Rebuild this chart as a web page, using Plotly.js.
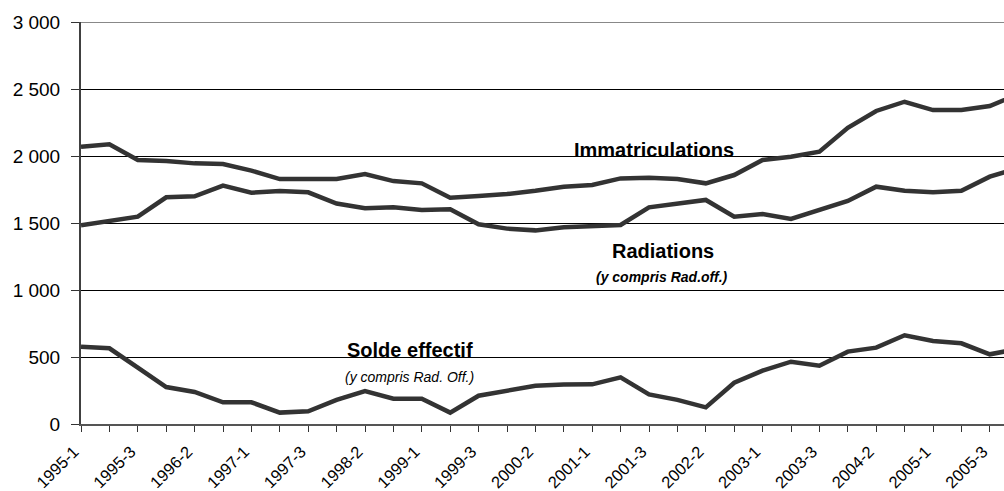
<!DOCTYPE html>
<html>
<head>
<meta charset="utf-8">
<script src="https://cdn.plot.ly/plotly-3.0.1.min.js"></script>
<style>html,body{margin:0;padding:0;background:#fff;}#chart{width:1004px;height:491px;}</style>
</head>
<body>
<div id="chart"></div>
<script>
// Categories (trimesters)
const periods = [
  "1995-1","1995-2","1995-3","1996-1","1996-2","1996-3","1997-1","1997-2","1997-3",
  "1998-1","1998-2","1998-3","1999-1","1999-2","1999-3","2000-1","2000-2","2000-3",
  "2001-1","2001-2","2001-3","2002-1","2002-2","2002-3","2003-1","2003-2","2003-3",
  "2004-1","2004-2","2004-3","2005-1","2005-2","2005-3","2006-1"
];
const immatriculations = [2069,2087,1970,1963,1945,1940,1891,1828,1828,1828,1866,1813,1796,1689,1701,1716,1741,1771,1784,1833,1838,1828,1796,1858,1970,1995,2032,2211,2336,2405,2343,2343,2373,2460];
const radiations = [1483,1517,1547,1692,1699,1779,1726,1739,1729,1645,1610,1617,1597,1602,1490,1458,1445,1468,1480,1485,1617,1642,1672,1547,1567,1530,1597,1664,1771,1741,1729,1741,1846,1910];
const soldeEffectif = [577,565,420,276,239,162,162,85,95,180,246,189,189,85,211,249,286,294,296,348,221,180,124,308,398,465,435,540,570,662,619,602,520,560];
const yTickVals = [0,500,1000,1500,2000,2500,3000];
const yTickLabels = ["0","500","1 000","1 500","2 000","2 500","3 000"];
const xTickLabels = periods.map((p, i) => (i % 2 === 0 ? p : ""));

const FONT = "Liberation Sans, Arial, sans-serif";
const lineStyle = {color: "#333333", width: 4.5};

const traces = [
  {x: periods, y: immatriculations, type: "scatter", mode: "lines", line: lineStyle, name: "Immatriculations"},
  {x: periods, y: radiations, type: "scatter", mode: "lines", line: lineStyle, name: "Radiations"},
  {x: periods, y: soldeEffectif, type: "scatter", mode: "lines", line: lineStyle, name: "Solde effectif"}
];

const layout = {
  width: 1004, height: 491,
  margin: {l: 81, r: 0, t: 22, b: 67, pad: 0},
  paper_bgcolor: "#ffffff", plot_bgcolor: "#ffffff",
  showlegend: false,
  font: {family: FONT, color: "#000"},
  xaxis: {
    type: "category",
    range: [0, 32.5],
    tickmode: "array",
    tickvals: periods,
    ticktext: xTickLabels,
    tickangle: -45,
    ticks: "outside", ticklen: 6, tickwidth: 1, tickcolor: "#333",
    ticklabelstandoff: 4,
    ticklabelshift: -7,
    tickfont: {family: FONT, size: 16.5, color: "#000"},
    showgrid: false, zeroline: false,
    showline: true, linecolor: "#555", linewidth: 1.5
  },
  yaxis: {
    range: [0, 3000],
    tickmode: "array",
    tickvals: yTickVals,
    ticktext: yTickLabels,
    ticks: "outside", ticklen: 8, tickwidth: 1, tickcolor: "#333",
    ticklabelstandoff: 7,
    tickfont: {family: FONT, size: 19, color: "#000"},
    showgrid: true, gridcolor: "#000", gridwidth: 1,
    zeroline: false,
    showline: true, linecolor: "#404040", linewidth: 2
  },
  shapes: [
    {type: "line", xref: "paper", yref: "y", x0: 0, x1: 1, y0: 3000, y1: 3000, line: {color: "#888888", width: 2}, layer: "above"}
  ],
  annotations: [
    {xref: "x", yref: "y", x: 20.17, y: 2045, text: "<b>Immatriculations</b>", showarrow: false, xanchor: "center", yanchor: "middle", font: {family: FONT, size: 20, color: "#000"}},
    {xref: "x", yref: "y", x: 20.5, y: 1293, text: "<b>Radiations</b>", showarrow: false, xanchor: "center", yanchor: "middle", font: {family: FONT, size: 20, color: "#000"}},
    {xref: "x", yref: "y", x: 20.45, y: 1099, text: "<b><i>(y compris Rad.off.)</i></b>", showarrow: false, xanchor: "center", yanchor: "middle", font: {family: FONT, size: 14, color: "#000"}},
    {xref: "x", yref: "y", x: 11.58, y: 552, text: "<b>Solde effectif</b>", showarrow: false, xanchor: "center", yanchor: "middle", font: {family: FONT, size: 20, color: "#000"}},
    {xref: "x", yref: "y", x: 11.58, y: 351, text: "<i>(y compris Rad. Off.)</i>", showarrow: false, xanchor: "center", yanchor: "middle", font: {family: FONT, size: 14, color: "#000"}}
  ]
};

Plotly.newPlot("chart", traces, layout, {displayModeBar: false, staticPlot: true});
</script>
</body>
</html>
